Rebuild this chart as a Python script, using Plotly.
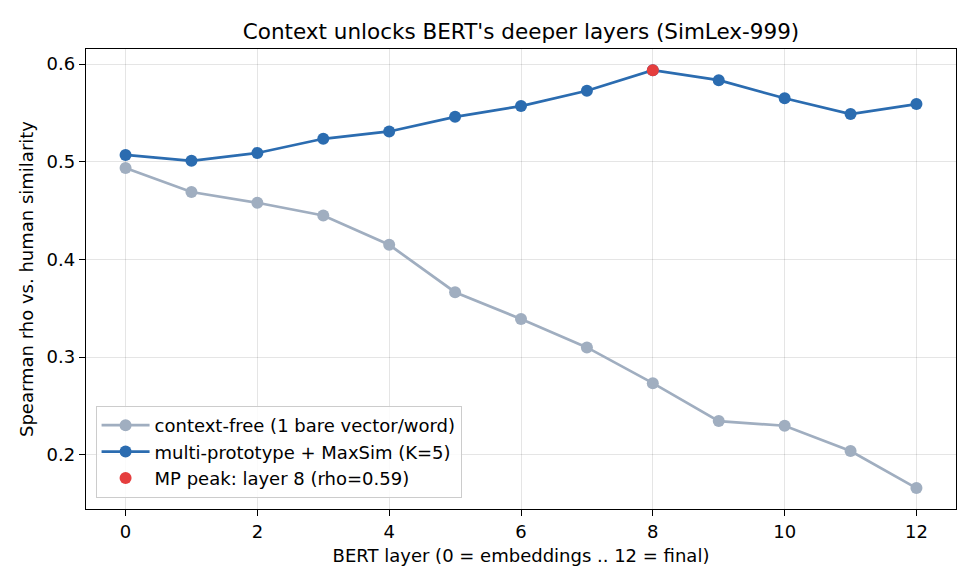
import plotly.graph_objects as go

layers = list(range(13))
context_free = [0.4935, 0.469, 0.458, 0.445, 0.415, 0.3665, 0.339, 0.310, 0.2734, 0.2346, 0.2298, 0.2039, 0.166]
multi_proto = [0.507, 0.501, 0.509, 0.5235, 0.531, 0.546, 0.557, 0.5726, 0.5937, 0.5835, 0.565, 0.5488, 0.559]
peak_layer = 8
peak_value = 0.5937

x_ticks = [0, 2, 4, 6, 8, 10, 12]
y_ticks = [0.2, 0.3, 0.4, 0.5, 0.6]

GRAY = "#A0AEC0"
BLUE = "#2B6CB0"
RED = "#E53E3E"
FONT = "DejaVu Sans"

fig = go.Figure()
fig.add_trace(go.Scatter(
    x=layers, y=context_free, mode="lines+markers",
    name="context-free (1 bare vector/word)",
    line=dict(color=GRAY, width=2.7),
    marker=dict(color=GRAY, size=12),
))
fig.add_trace(go.Scatter(
    x=layers, y=multi_proto, mode="lines+markers",
    name="multi-prototype + MaxSim (K=5)",
    line=dict(color=BLUE, width=2.7),
    marker=dict(color=BLUE, size=12),
))
fig.add_trace(go.Scatter(
    x=[peak_layer], y=[peak_value], mode="markers",
    name="MP peak: layer 8 (rho=0.59)",
    marker=dict(color=RED, size=12),
))

axis_common = dict(
    showline=True, linecolor="black", linewidth=1.4, mirror=True,
    ticks="outside", ticklen=6, tickwidth=1.4, tickcolor="black",
    showgrid=True, gridcolor="rgba(0,0,0,0.1)", gridwidth=1.1,
    zeroline=False,
    tickfont=dict(family=FONT, size=18, color="black"),
)

fig.update_layout(
    width=975, height=585,
    margin=dict(l=86, r=19, t=49, b=76),
    paper_bgcolor="white", plot_bgcolor="white",
    font=dict(family=FONT, color="black"),
    title=dict(
        text="Context unlocks BERT's deeper layers (SimLex-999)",
        x=0.5, xref="paper", xanchor="center",
        y=1 - 31 / 585, yanchor="middle",
        font=dict(family=FONT, size=21.5, color="black"),
    ),
    xaxis=dict(
        range=[-0.6, 12.6], tickvals=x_ticks,
        title=dict(text="BERT layer (0 = embeddings .. 12 = final)",
                   font=dict(family=FONT, size=18), standoff=8),
        **axis_common,
    ),
    yaxis=dict(
        range=[0.1446, 0.6154], tickvals=y_ticks, tickformat=".1f",
        title=dict(text="Spearman rho vs. human similarity",
                   font=dict(family=FONT, size=18), standoff=8),
        **axis_common,
    ),
    legend=dict(
        x=0.011, y=0.024, xanchor="left", yanchor="bottom",
        bgcolor="rgba(255,255,255,0.85)", bordercolor="#cccccc", borderwidth=1,
        font=dict(family=FONT, size=18, color="black"),
        tracegroupgap=0, itemwidth=48,
    ),
    showlegend=True,
)

fig.write_html("out.html")
